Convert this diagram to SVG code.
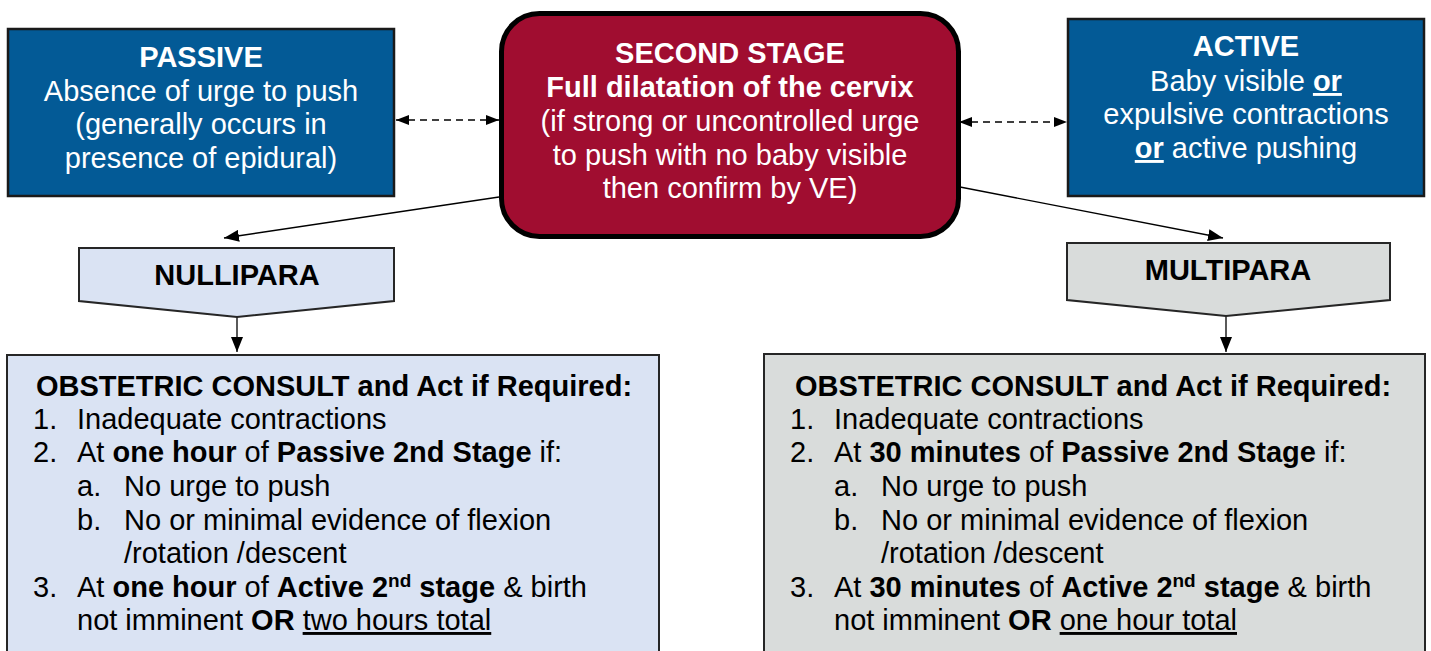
<svg xmlns="http://www.w3.org/2000/svg" width="1431" height="651" viewBox="0 0 1431 651">
<style>
text{font-family:"Liberation Sans",Arial,sans-serif;font-size:29px}
.w{fill:#fff;text-anchor:middle}
.k{fill:#000}
.c{text-anchor:middle}
.b{font-weight:bold}
.u{text-decoration:underline}
.blue{fill:#035a96;stroke:#1a1a1a;stroke-width:2.5}
.sq{stroke:#262626;stroke-width:2}
.ln{stroke:#000;stroke-width:1.3;fill:none}
.dash{stroke-dasharray:7 5}
</style>
<defs>
<marker id="ah" viewBox="0 0 13 10" refX="13" refY="5" markerWidth="13" markerHeight="10" orient="auto-start-reverse" markerUnits="userSpaceOnUse"><path d="M0,0 L13,5 L0,10 z" fill="#000"/></marker>
<marker id="ah2" viewBox="0 0 15 12" refX="15" refY="6" markerWidth="15" markerHeight="12" orient="auto" markerUnits="userSpaceOnUse"><path d="M0,0 L15,6 L0,12 z" fill="#000"/></marker>
</defs>

<g id="connectors">
<line class="ln dash" x1="396" y1="120" x2="499" y2="120" marker-start="url(#ah)" marker-end="url(#ah)"/>
<line class="ln dash" x1="959" y1="122" x2="1067" y2="122" marker-start="url(#ah)" marker-end="url(#ah)"/>
<line class="ln" x1="499" y1="197" x2="224" y2="238" marker-end="url(#ah2)"/>
<line class="ln" x1="960" y1="187" x2="1223" y2="238" marker-end="url(#ah2)"/>
<line class="ln" x1="237" y1="317" x2="237" y2="352" marker-end="url(#ah2)"/>
<line class="ln" x1="1226" y1="316" x2="1226" y2="352" marker-end="url(#ah2)"/>
</g>

<g id="passive">
<rect class="blue" x="8" y="29" width="386" height="167"/>
<text class="w b" x="201" y="67">PASSIVE</text>
<text class="w" x="201" y="101">Absence of urge to push</text>
<text class="w" x="201" y="134">(generally occurs in</text>
<text class="w" x="201" y="168">presence of epidural)</text>
</g>

<g id="second-stage">
<rect x="501.5" y="13.5" width="457" height="223" rx="38" fill="#a00d30" stroke="#000" stroke-width="5"/>
<text class="w b" x="730" y="63">SECOND STAGE</text>
<text class="w b" x="730" y="97">Full dilatation of the cervix</text>
<text class="w" x="730" y="131">(if strong or uncontrolled urge</text>
<text class="w" x="730" y="165">to push with no baby visible</text>
<text class="w" x="730" y="198">then confirm by VE)</text>
</g>

<g id="active">
<rect class="blue" x="1068" y="19" width="356" height="177"/>
<text class="w b" x="1246" y="56">ACTIVE</text>
<text class="w" x="1246" y="91">Baby visible <tspan class="b u">or</tspan></text>
<text class="w" x="1246" y="124">expulsive contractions</text>
<text class="w" x="1246" y="158"><tspan class="b u">or</tspan> active pushing</text>
</g>

<g id="nullipara">
<polygon class="sq" points="79,248 394,248 394,301 237,317 79,301" fill="#dae3f3"/>
<text class="k c b" x="237" y="285">NULLIPARA</text>
</g>

<g id="multipara">
<polygon class="sq" points="1067,243 1390,243 1390,300 1226,316 1067,300" fill="#d9dcdb"/>
<text class="k c b" x="1228" y="280">MULTIPARA</text>
</g>

<g id="nullipara-consult">
<rect class="sq" x="7" y="355" width="652" height="310" fill="#dae3f3"/>
<text class="k c b" x="334" y="396">OBSTETRIC CONSULT and Act if Required:</text>
<text class="k" x="33" y="429">1.</text>
<text class="k" x="77" y="429">Inadequate contractions</text>
<text class="k" x="33" y="462">2.</text>
<text class="k" x="77" y="462">At <tspan class="b">one hour</tspan> of <tspan class="b">Passive 2nd Stage</tspan> if:</text>
<text class="k" x="77" y="496">a.</text>
<text class="k" x="124" y="496">No urge to push</text>
<text class="k" x="77" y="530">b.</text>
<text class="k" x="124" y="530">No or minimal evidence of flexion</text>
<text class="k" x="124" y="563">/rotation /descent</text>
<text class="k" x="33" y="597">3.</text>
<text class="k" x="77" y="597">At <tspan class="b">one hour</tspan> of <tspan class="b">Active 2</tspan><tspan class="b" font-size="19" dy="-10">nd</tspan><tspan class="b" dy="10"> stage</tspan> &amp; birth</text>
<text class="k" x="77" y="630">not imminent <tspan class="b">OR</tspan> <tspan class="u">two hours total</tspan></text>
</g>

<g id="multipara-consult">
<rect class="sq" x="764" y="354" width="661" height="310" fill="#d9dcdb"/>
<text class="k c b" x="1093" y="396">OBSTETRIC CONSULT and Act if Required:</text>
<text class="k" x="790" y="429">1.</text>
<text class="k" x="834" y="429">Inadequate contractions</text>
<text class="k" x="790" y="462">2.</text>
<text class="k" x="834" y="462">At <tspan class="b">30 minutes</tspan> of <tspan class="b">Passive 2nd Stage</tspan> if:</text>
<text class="k" x="834" y="496">a.</text>
<text class="k" x="881" y="496">No urge to push</text>
<text class="k" x="834" y="530">b.</text>
<text class="k" x="881" y="530">No or minimal evidence of flexion</text>
<text class="k" x="881" y="563">/rotation /descent</text>
<text class="k" x="790" y="597">3.</text>
<text class="k" x="834" y="597">At <tspan class="b">30 minutes</tspan> of <tspan class="b">Active 2</tspan><tspan class="b" font-size="19" dy="-10">nd</tspan><tspan class="b" dy="10"> stage</tspan> &amp; birth</text>
<text class="k" x="834" y="630">not imminent <tspan class="b">OR</tspan> <tspan class="u">one hour total</tspan></text>
</g>
</svg>
